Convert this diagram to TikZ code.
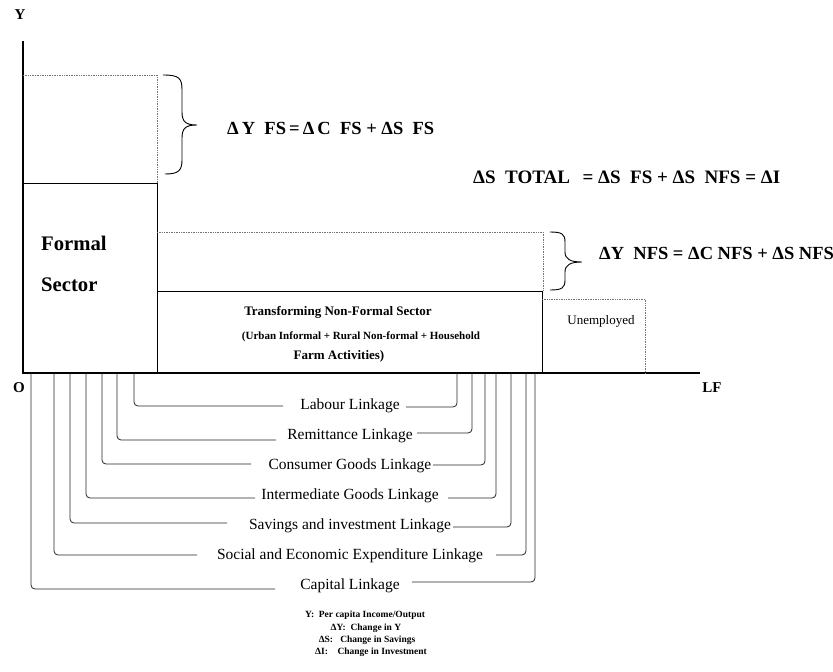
\documentclass[tikz,border=0pt]{standalone}
\usepackage{fontspec}
\setmainfont{Liberation Serif}
\tikzset{
  axisline/.style={line width=1.1pt},
  solidbox/.style={line width=0.9pt},
  dotbox/.style={densely dotted, line width=0.7pt, black!55},
  link/.style={line width=0.8pt, rounded corners=4pt, black!85},
  bracepath/.style={line width=0.9pt},
  axlab/.style={font=\fontsize{15}{18}\selectfont\bfseries, inner sep=0pt},
  lab/.style={font=\fontsize{15.5}{18}\selectfont, inner sep=0pt},
  eqn/.style={font=\fontsize{18.5}{22}\selectfont\bfseries, inner sep=0pt, anchor=west},
  bigsector/.style={font=\fontsize{20.7}{24}\selectfont\bfseries, inner sep=0pt, anchor=west},
  nftitle/.style={font=\fontsize{13}{15}\selectfont\bfseries, inner sep=0pt},
  nfsub/.style={font=\fontsize{11}{13}\selectfont\bfseries, inner sep=0pt},
  nfsubb/.style={font=\fontsize{13}{15}\selectfont\bfseries, inner sep=0pt},
  unemp/.style={font=\fontsize{13}{15}\selectfont, inner sep=0pt},
  legend/.style={font=\fontsize{9.5}{11}\selectfont\bfseries, inner sep=0pt},
}
\begin{document}
\begin{tikzpicture}[x=1pt,y=-1pt]
\useasboundingbox (0,0) rectangle (833,672);
% axes
\coordinate (Ytop) at (23,41);
\coordinate (O) at (23,373);
\coordinate (Xend) at (700,373);
\draw[axisline] (Ytop) -- (O) -- (Xend);
\node[axlab] (ylab) at (20,15) {Y};
\node[axlab] (olab) at (19,388) {O};
\node[axlab] (lflab) at (712,388) {LF};
% formal sector
\draw[solidbox] (23,183) -- (157,183) -- (157,373);
\draw[dotbox] (23,75) -- (157,75) -- (157,183);
\node[bigsector] (formal) at (41,243) {Formal};
\node[bigsector] (sector) at (41,285) {Sector};
% non-formal sector
\draw[solidbox] (157,291) -- (542,291) -- (542,373);
\draw[dotbox] (157,232) -- (543,232) -- (543,291);
\draw[dotbox] (542,299) -- (645,299) -- (645,373);
\node[nftitle] (nft) at (338,312) {Transforming Non-Formal Sector};
\node[nfsub] (nfs1) at (361,337) {(Urban Informal + Rural Non-formal + Household};
\node[nfsubb] (nfs2) at (339,356) {Farm Activities)};
\node[unemp] (unemployed) at (601,321) {Unemployed};
% braces
\draw[bracepath] (163,75) .. controls (179,75) and (182,78) .. (182,90) -- (182,112)
  .. controls (182,122) and (186,125) .. (197,125)
  .. controls (186,125) and (182,128) .. (182,138) -- (182,160)
  .. controls (182,171) and (178,174) .. (165,174);
\draw[bracepath] (550,232) .. controls (562,232) and (565,234) .. (565,242) -- (565,252)
  .. controls (565,259) and (570,262) .. (582,262)
  .. controls (570,262) and (565,265) .. (565,272) -- (565,280)
  .. controls (565,288) and (562,290) .. (550,290);
% equations
\node[eqn] (eqfs) at (227,128) {Δ\,Y\ \ FS\,=\,Δ\,C\ \ FS + ΔS\ \ FS};
\node[eqn, font=\fontsize{19}{22}\selectfont\bfseries] (eqtot) at (473,177) {ΔS\ \ TOTAL\ \ \,= ΔS\ \ FS + ΔS\ \ NFS = ΔI};
\node[eqn] (eqnfs) at (599,253) {ΔY\ \ NFS = ΔC NFS + ΔS NFS};
% linkage labels
\node[lab] (labour) at (350,406) {Labour Linkage};
\node[lab] (remit) at (350,436) {Remittance Linkage};
\node[lab] (consumer) at (350,466) {Consumer Goods Linkage};
\node[lab] (interm) at (350,496) {Intermediate Goods Linkage};
\node[lab] (savings) at (350,526) {Savings and investment Linkage};
\node[lab] (social) at (350,556) {Social and Economic Expenditure Linkage};
\node[lab] (capital) at (350,586) {Capital Linkage};
% left ends on formal side
\coordinate (labourL) at (134,373); \coordinate (labourLe) at (283,406);
\coordinate (remitL) at (117,373); \coordinate (remitLe) at (276,440);
\coordinate (consumerL) at (102,373); \coordinate (consumerLe) at (251,464);
\coordinate (intermL) at (86,373); \coordinate (intermLe) at (255,498);
\coordinate (savingsL) at (70,373); \coordinate (savingsLe) at (227,523);
\coordinate (socialL) at (54,373); \coordinate (socialLe) at (197,555);
\coordinate (capitalL) at (31,373); \coordinate (capitalLe) at (275,589);
% right ends on non-formal side
\coordinate (labourR) at (457,373); \coordinate (labourRs) at (406,407);
\coordinate (remitR) at (472,373); \coordinate (remitRs) at (417,433);
\coordinate (consumerR) at (485,373); \coordinate (consumerRs) at (433,465);
\coordinate (intermR) at (496,373); \coordinate (intermRs) at (448,498);
\coordinate (savingsR) at (511,373); \coordinate (savingsRs) at (453,527);
\coordinate (socialR) at (526,373); \coordinate (socialRs) at (496,555);
\coordinate (capitalR) at (535,373); \coordinate (capitalRs) at (412,582);
\foreach \k in {labour,remit,consumer,interm,savings,social,capital}{
  \draw[link] (\k L) |- (\k Le);
  \draw[link] (\k Rs) -| (\k R);
}
% legend
\node[legend] (leg1) at (365,615) {Y:\ \ Per capita Income/Output};
\node[legend] (leg2) at (366,628) {ΔY:\ \ Change in Y};
\node[legend] (leg3) at (367,640) {ΔS:\ \ \ Change in Savings};
\node[legend] (leg4) at (371,652) {ΔI:\ \ \ \ Change in Investment};
\end{tikzpicture}
\end{document}
